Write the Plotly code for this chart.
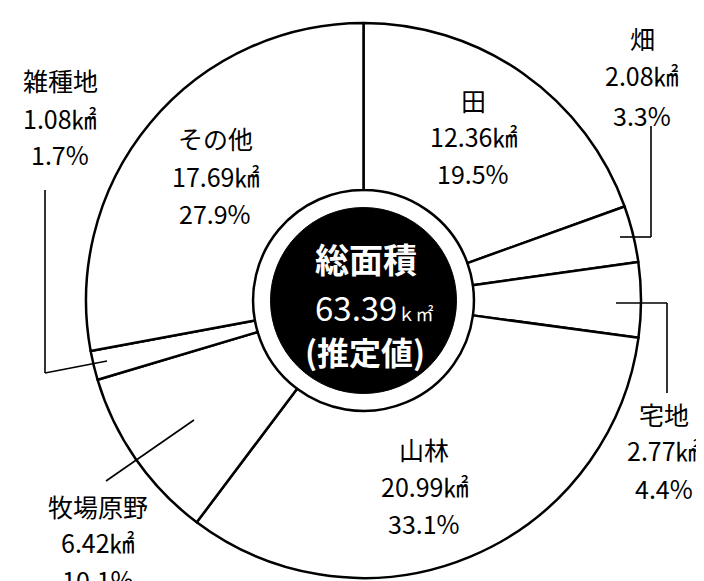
import plotly.graph_objects as go

# ---- data ----
labels = ["田", "畑", "宅地", "山林", "牧場原野", "雑種地", "その他"]
areas = [12.36, 2.08, 2.77, 20.99, 6.42, 1.08, 17.69]
pcts = [19.5, 3.3, 4.4, 33.1, 10.1, 1.7, 27.9]
total_title = "総面積"
total_value = "63.39"
total_note = "(推定値)"

# ---- layout helpers (pixel positions) ----
W, H = 704, 581
L, T, S = 78, 15, 555  # plot area left, top, size
FONT = "Noto Sans CJK JP"


def px(x):
    return (x - L) / S


def py(y):
    return 1 - (y - T) / S


label_pos = {
    "田": (465, [92, 128, 165]),
    "畑": (634, [30, 67, 107]),
    "宅地": (656, [406, 442, 480]),
    "山林": (416, [441, 478, 515]),
    "牧場原野": (90, [498, 534, 571]),
    "雑種地": (52, [72, 110, 146]),
    "その他": (207, [130, 168, 205]),
}

leaders = [
    [(643, 118), (643, 229), (612, 229)],
    [(608, 295), (659, 295), (659, 385)],
    [(37, 182), (37, 365), (99, 353)],
    [(98, 473), (186, 412)],
]

fig = go.Figure(
    go.Pie(
        labels=labels,
        values=areas,
        sort=False,
        direction="clockwise",
        rotation=0,
        hole=0.398,
        marker=dict(colors=["white"] * len(labels), line=dict(color="black", width=2.5)),
        textinfo="none",
        hoverinfo="label+value+percent",
        showlegend=False,
    )
)

annotations = []
for name, area, pct in zip(labels, areas, pcts):
    cx, ys = label_pos[name]
    lines = [name, f"{area:.2f}㎢", f"{pct:.1f}%"]
    for txt, yy in zip(lines, ys):
        annotations.append(
            dict(
                x=px(cx), y=py(yy), xref="paper", yref="paper",
                text=txt, showarrow=False, xanchor="center", yanchor="middle",
                font=dict(family=FONT, size=25, color="black"),
            )
        )

# centre texts
annotations += [
    dict(x=px(358), y=py(250), xref="paper", yref="paper", text=f"<b>{total_title}</b>",
         showarrow=False, xanchor="center", yanchor="middle",
         font=dict(family=FONT, size=34, color="white")),
    dict(x=px(366), y=py(299), xref="paper", yref="paper",
         text=f"{total_value}<span style='font-size:18px'>ｋ㎡</span>",
         showarrow=False, xanchor="center", yanchor="middle",
         font=dict(family=FONT, size=33, color="white")),
    dict(x=px(357), y=py(343), xref="paper", yref="paper", text=f"<b>{total_note}</b>",
         showarrow=False, xanchor="center", yanchor="middle",
         font=dict(family=FONT, size=32, color="white")),
]

shapes = []
cx0, cy0, r0 = 355.5, 292.5, 93
shapes.append(dict(type="circle", xref="paper", yref="paper",
                   x0=px(cx0 - r0), x1=px(cx0 + r0), y0=py(cy0 + r0), y1=py(cy0 - r0),
                   fillcolor="black", line=dict(color="black", width=1), layer="above"))
for pts in leaders:
    for (x0, y0), (x1, y1) in zip(pts[:-1], pts[1:]):
        shapes.append(dict(type="line", xref="paper", yref="paper",
                           x0=px(x0), y0=py(y0), x1=px(x1), y1=py(y1),
                           line=dict(color="black", width=1.6), layer="above"))

# shapes before annotations so text sits on top
fig.update_layout(
    width=W, height=H,
    margin=dict(l=L, r=W - L - S, t=T, b=H - T - S),
    paper_bgcolor="white", plot_bgcolor="white",
    annotations=annotations, shapes=shapes,
)

fig.write_html("out.html")
